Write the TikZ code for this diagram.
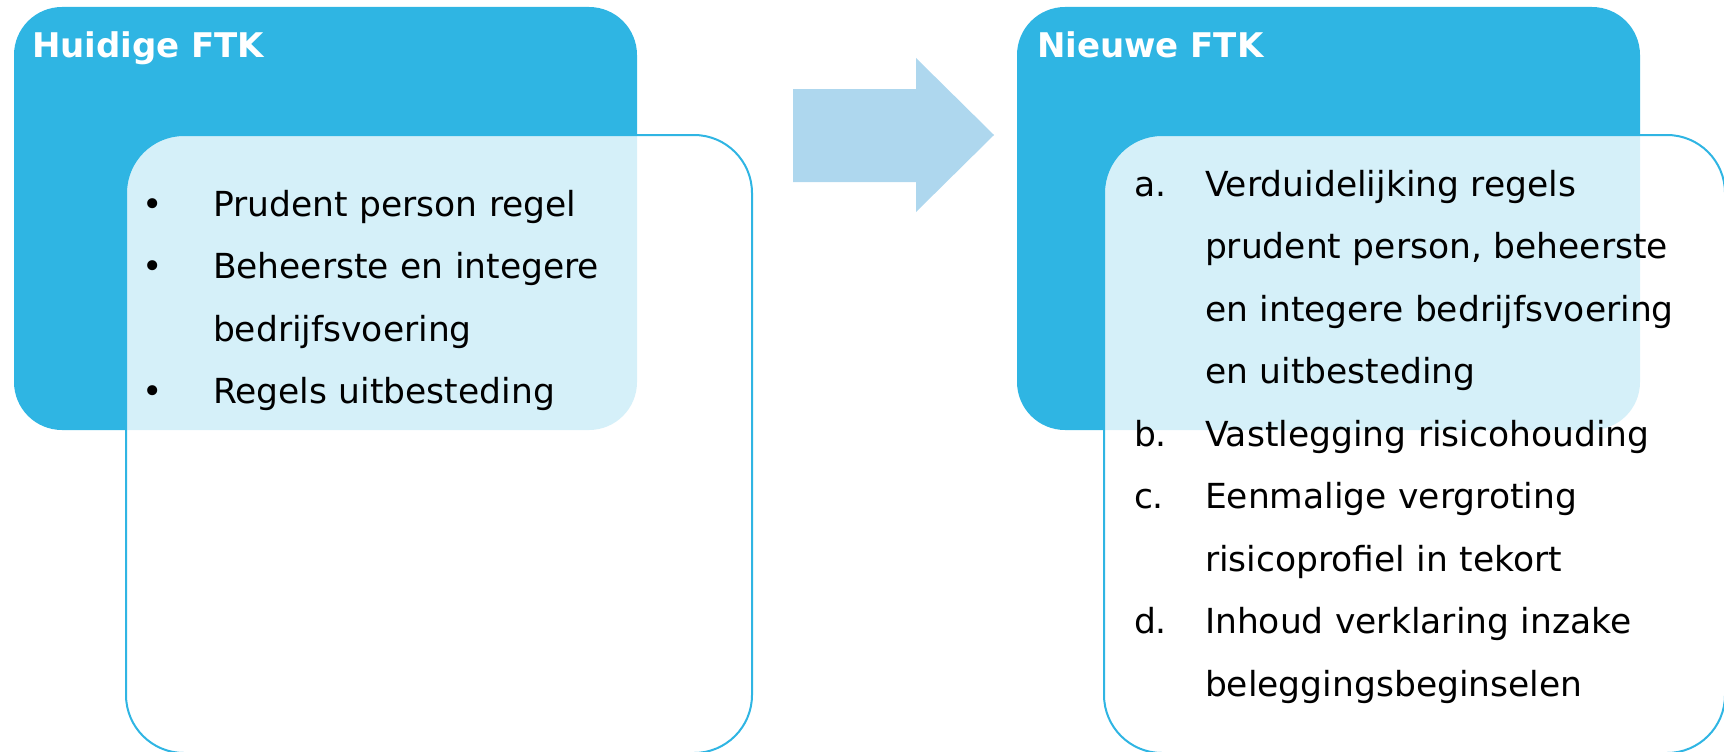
\documentclass[tikz,border=0pt]{standalone}
\usepackage{fontspec}
\setmainfont{DejaVu Sans}
\usetikzlibrary{positioning}

\definecolor{ftkblauw}{HTML}{2FB5E3}
\definecolor{pijlblauw}{HTML}{AED7EE}

\begin{document}
\begin{tikzpicture} [x=1pt,y=-1pt,line width=2pt,
  kader/.style={rectangle, rounded corners=48pt, fill=ftkblauw, inner sep=0pt, minimum width=623pt, minimum height=423pt},
  blad/.style={rectangle, rounded corners=58pt, draw=ftkblauw, fill=white, fill opacity=0.8, inner sep=0pt, minimum width=626pt, minimum height=618pt},
  kop/.style={text=white, font=\bfseries\fontsize{34}{40}\selectfont, anchor=base west, inner sep=0pt},
  lijst/.style={font=\fontsize{34.5}{62.5}\selectfont, anchor=base west, inner sep=0pt, text width=620pt, align=left}]

  \useasboundingbox (0,0) rectangle (1724,752);

  \node[kader] (huidig) [anchor=north west] at (13,6) {};
  \node[kader] (nieuw) [right=378pt of huidig] {};
  \node[blad] (huidigblad) [below right=128pt and 112pt of huidig.north west] {};
  \node[blad] (nieuwblad) [below right=128pt and 87pt of nieuw.north west, minimum width=621pt] {};

  \node[kop] (huidigkop) at (31,58) {Huidige FTK};
  \node[kop] (nieuwkop) at (1036,58) {Nieuwe FTK};

  \node[lijst] (huidiglijst) at (141,216) {%
    \makebox[71pt][l]{\textbullet}Prudent person regel\\
    \makebox[71pt][l]{\textbullet}Beheerste en integere\\
    \hspace*{71pt}bedrijfsvoering\\
    \makebox[71pt][l]{\textbullet}Regels uitbesteding};

  \node[lijst] (nieuwlijst) at (1133,196) {%
    \makebox[71pt][l]{a.}Verduidelijking regels\\
    \hspace*{71pt}prudent person, beheerste\\
    \hspace*{71pt}en integere bedrijfsvoering\\
    \hspace*{71pt}en uitbesteding\\
    \makebox[71pt][l]{b.}Vastlegging risicohouding\\
    \makebox[71pt][l]{c.}Eenmalige vergroting\\
    \hspace*{71pt}risicoprofiel in tekort\\
    \makebox[71pt][l]{d.}Inhoud verklaring inzake\\
    \hspace*{71pt}beleggingsbeginselen};

  % pijl tussen de twee kaders
  \coordinate (pijl) at (793,89);
  \fill[pijlblauw] (pijl) -- ++(123,0) -- ++(0,-31) -- ++(78,77) -- ++(-78,77) -- ++(0,-30) -- ++(-123,0) -- cycle;

\end{tikzpicture}
\end{document}
